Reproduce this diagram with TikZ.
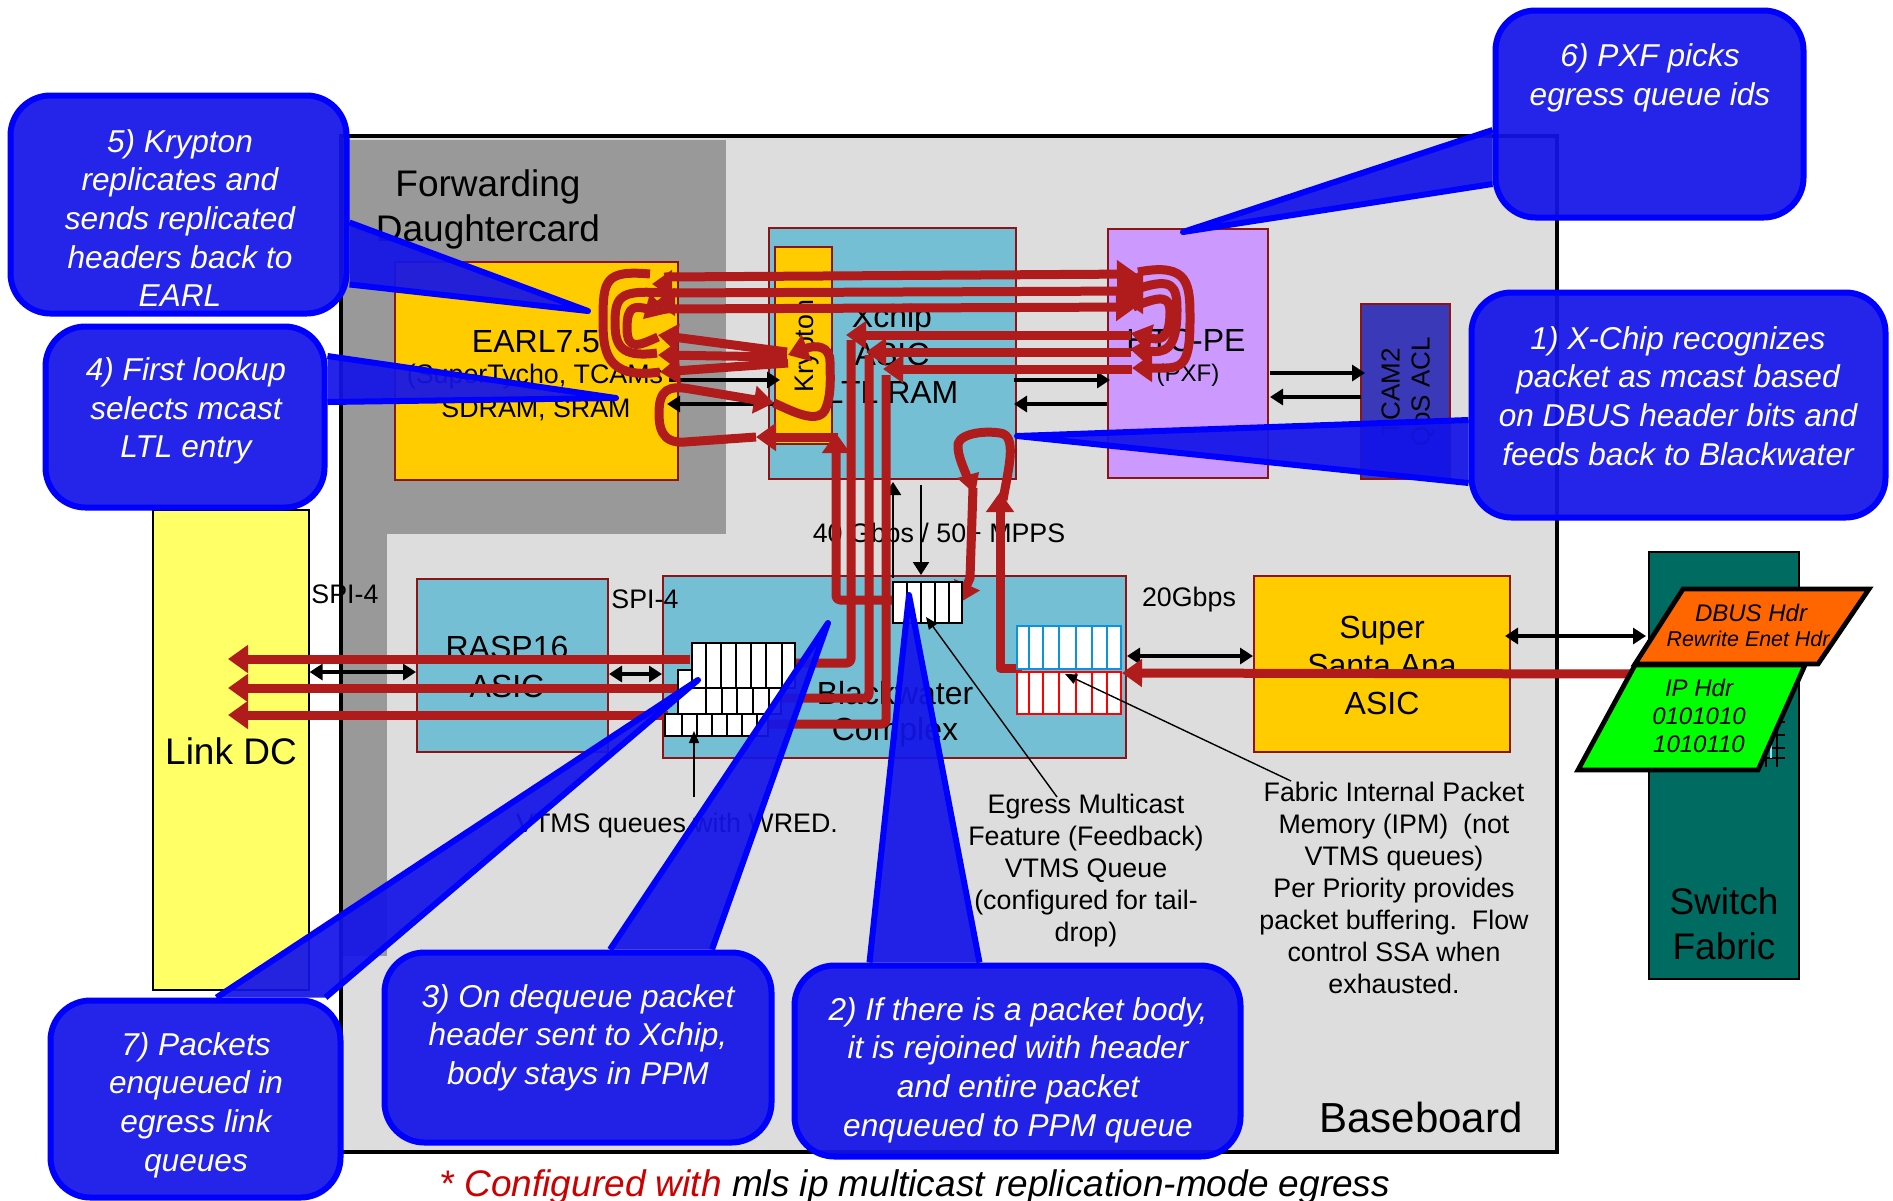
\documentclass[tikz,border=0pt]{standalone}
\usepackage{fontspec}
\setmainfont{Liberation Sans}
\usepackage{xcolor}
\usetikzlibrary{positioning,arrows.meta,calc}
\definecolor{FlowRed}{RGB}{176,27,27}
\definecolor{EdgeRed}{RGB}{140,20,20}
\definecolor{AsicBlue}{RGB}{117,191,213}
\definecolor{EarlGold}{RGB}{255,204,0}
\definecolor{LinkYellow}{RGB}{255,255,102}
\definecolor{PxfPurple}{RGB}{204,153,255}
\definecolor{TcamBlue}{RGB}{58,58,184}
\definecolor{FabricTeal}{RGB}{0,107,97}
\definecolor{BoardGray}{RGB}{221,221,221}
\definecolor{CardGray}{RGB}{153,153,153}
\definecolor{CallBlue}{RGB}{20,20,232}

\begin{document}
\begin{tikzpicture}[x=0.5pt, y=-0.5pt,
    chip/.style={rectangle, draw=EdgeRed, line width=1pt, inner sep=0pt},
    qbox/.style={rectangle, draw=black, line width=1.2pt, fill=white, inner sep=0pt},
    big/.style={font=\fontsize{18.5}{22.5}\selectfont, align=center, inner sep=0pt},
    mid/.style={font=\fontsize{16}{19}\selectfont, align=center, inner sep=0pt},
    small/.style={font=\fontsize{13.4}{16}\selectfont, align=center, inner sep=0pt},
    hdr/.style={font=\fontsize{12}{14}\selectfont\itshape, align=center, inner sep=0pt},
    flowline/.style={draw=FlowRed, line width=4.5pt, line join=round},
    flow/.style={flowline, -{Triangle[length=10pt,width=13.5pt]}},
    bus/.style={line width=1.6pt, -{Triangle[length=6.5pt,width=8pt]}},
    dbus/.style={line width=1.6pt, {Triangle[length=6.5pt,width=8pt]}-{Triangle[length=6.5pt,width=8pt]}},
    note/.style={line width=0.7pt, -{Triangle[length=6pt,width=5pt]}},
    callout/.style={rectangle, rounded corners=20pt, draw=blue, line width=3pt, fill=CallBlue, fill opacity=0.93, inner sep=0pt},
    pointer/.style={draw=blue, line width=3pt, fill=CallBlue, fill opacity=0.93, line join=round},
    calltext/.style={font=\fontsize{15.8}{19.3}\selectfont\itshape, text=white, align=center, inner sep=0pt},
]
\useasboundingbox (0,0) rectangle (1893,1200);

% boards
\node[rectangle, fill=BoardGray, minimum width=608pt, minimum height=508pt, inner sep=0pt] (board) at (949,644) {};
\node[rectangle, fill=CardGray, minimum width=192pt, minimum height=197pt, inner sep=0pt] (card) at (534,337) {};
\node[rectangle, fill=CardGray, minimum width=23.5pt, minimum height=211pt, inner sep=0pt] (strip) at (363.5,745) {};
\draw[line width=2pt] (board.north west) rectangle (board.south east);
\node[rectangle, draw=black, line width=0.6pt, fill=LinkYellow, minimum width=78pt, minimum height=240pt, inner sep=0pt] (link) at (231,750) {};
\node[rectangle, draw=black, line width=1.2pt, fill=FabricTeal, minimum width=75pt, minimum height=213.5pt, inner sep=0pt] (fabric) at (1724,765.5) {};

% chips
\node[chip, fill=EarlGold, minimum width=141.5pt, minimum height=109pt] (earl) at (536.5,371) {};
\node[chip, fill=AsicBlue, minimum width=123.5pt, minimum height=125.5pt] (xchip) at (892.5,353) {};
\node[chip, fill=EarlGold, minimum width=28.5pt, minimum height=98.5pt] (krypton) at (803.5,345.5) {};
\node[chip, fill=PxfPurple, minimum width=80pt, minimum height=124.5pt] (pxf) at (1188,353.5) {};
\node[chip, fill=TcamBlue, minimum width=44.5pt, minimum height=87.5pt] (tcam) at (1405.5,391) {};
\node[chip, fill=AsicBlue, minimum width=95.5pt, minimum height=86.5pt] (rasp) at (512.5,665.5) {};
\node[chip, fill=AsicBlue, minimum width=231.5pt, minimum height=91pt] (black) at (894.5,667) {};
\node[chip, fill=EarlGold, minimum width=128pt, minimum height=88pt] (ssa) at (1382,664) {};

% labels
\node[big] (cardlbl) at (488,209) {Forwarding\\Daughtercard};
\node[font=\fontsize{21}{25}\selectfont, inner sep=0pt] (boardlbl) at (1421,1117) {Baseboard};
\node[big] (linklbl) at (231,751) {Link DC};
\node[big] (fabriclbl) at (1724,923.5) {Switch\\Fabric};
\node[mid] (earllbl) at (536,342) {EARL7.5};
\node[small] (earllbla) at (535,377) {(SuperTycho, TCAMs};
\node[small] (earllblb) at (536,409.5) {SDRAM, SRAM};
\node[mid] (xlbla) at (892,319.5) {Xchip};
\node[mid] (xlblb) at (892,354.5) {ASIC};
\node[mid] (xlblc) at (892,392) {LTL RAM};
\node[small, rotate=90] (krlbl) at (807,346) {Krypton};
\node[mid] (pxflbl) at (1186,340) {HTC-PE};
\node[small, font=\fontsize{12}{14}\selectfont] (pxflblb) at (1188,375) {(PXF)};
\node[small, rotate=90, font=\fontsize{13}{15}\selectfont] (tcamlbl) at (1408,392) {TCAM2\\QoS ACL};
\node[mid] (rasplbla) at (507,647) {RASP16};
\node[mid] (rasplblb) at (507,686) {ASIC};
\node[mid] (blacklbla) at (895,693) {Blackwater};
\node[mid] (blacklblb) at (895,732) {Complex};
\node[mid] (ssalbl) at (1382,665) {Super\\Santa Ana\\ASIC};
\node[small] (spia) at (345,594) {SPI-4};
\node[small] (spib) at (645,599) {SPI-4};
\node[small] (rate) at (939,535.5) {40 Gbps / 50+ MPPS};
\node[small] (fabrate) at (1189,599.5) {20Gbps};
\node[small] (vtms) at (677,825.5) {VTMS queues with WRED.};
\node[small] (egress) at (1086,870.5) {Egress Multicast\\Feature (Feedback)\\VTMS Queue\\(configured for tail-\\drop)};
\node[small] (ipm) at (1394,888) {Fabric Internal Packet\\Memory (IPM)\ \ (not\\VTMS queues)\\Per Priority provides\\packet buffering.\ \ Flow\\control SSA when\\exhausted.};
\node[font=\fontsize{18.5}{22}\selectfont\itshape, inner sep=0pt] (config) at (915,1186.5) {\textcolor{red!80!black}{* Configured with} mls ip multicast replication-mode egress};

% black links
\coordinate (ea) at (669,380);  \coordinate (kra) at (780,380);
\coordinate (eb) at (667,404);  \coordinate (krb) at (775,404);
\coordinate (xa) at (1014,380); \coordinate (pa) at (1110,380);
\coordinate (xb) at (1014,404); \coordinate (pb) at (1107,404);
\coordinate (pc) at (1270,373); \coordinate (ta) at (1365,373);
\coordinate (pd) at (1270,397); \coordinate (tb) at (1361,397);
\coordinate (xc) at (893,482);  \coordinate (qa) at (893,578);
\coordinate (xd) at (921,485);  \coordinate (qb) at (921,575);
\coordinate (sa) at (1505,636); \coordinate (fa) at (1646,636);
\draw[bus] (ea) -- (kra);
\draw[bus] (krb) -- (eb);
\draw[bus] (xa) -- (pa);
\draw[bus] (pb) -- (xb);
\draw[bus] (pc) -- (ta);
\draw[bus] (tb) -- (pd);
\draw[bus, line width=1.1pt] (qa) -- (xc);
\draw[bus, line width=1.1pt] (xd) -- (qb);
\draw[dbus] (sa) -- (fa);
\draw[dbus] (black.east |- 0,656) -- (ssa.west |- 0,656);
\draw[dbus] (link.east |- 0,672) -- (rasp.west |- 0,672);
\draw[dbus] (rasp.east |- 0,674) -- (black.west |- 0,674);

% red flow, EARL side
\draw[flow] (664,277) -- (1137,274);
\draw[flow] (664,293) -- (1138,291);
\draw[flow] (664,309) -- (1136,307);
\draw[flow] (668,284) -- (652,284);
\draw[flow] (668,302) -- (655,302);
\draw[flow] (1140,283) -- (1123,283);
\draw[flow] (1140,300) -- (1123,300);
\draw[flowline] (660,372) .. controls (605,380) and (603,350) .. (603,320) .. controls (603,280) and (605,270) .. (650,274);
\draw[flowline] (657,353) .. controls (620,358) and (615,345) .. (615,322) .. controls (615,295) and (622,290) .. (664,293);
\draw[flowline] (658,337) .. controls (640,345) and (627,352) .. (627,328) .. controls (627,305) and (635,306) .. (648,309);
\fill[FlowRed] (643,319) -- (668,313) -- (650,293) -- cycle;
\draw[flow] (787,352) -- (658,335);
\draw[flow] (787,357) -- (658,355);
\draw[flow] (788,363) -- (660,372);

% red flow, PXF side
\draw[flow] (1138,272) .. controls (1190,262) and (1190,285) .. (1190,320) .. controls (1190,372) and (1180,368) .. (1132,368);
\draw[flow] (1140,288) .. controls (1172,278) and (1177,285) .. (1177,310) .. controls (1177,350) and (1165,353) .. (1130,349);
\draw[flow] (1133,307) .. controls (1160,296) and (1170,295) .. (1170,312) .. controls (1170,342) and (1158,340) .. (1131,333);
\draw[flow] (1131,335) -- (846,335);
\draw[flow] (1131,352) -- (866,352);
\draw[flow] (1132,369) -- (883,369);

% krypton loop and lower EARL loop
\draw[flow] (838,437) -- (756,437);
\draw[flow] (756,437) -- (685,442) .. controls (660,444) and (659,425) .. (659,413) .. controls (659,390) and (668,385) .. (690,389) -- (774,403);
\draw[flow] (774,403) .. controls (790,410) and (817,425) .. (825,410) .. controls (832,395) and (830,375) .. (830,362) .. controls (830,345) and (815,345) .. (788,355);

% red flow, down to the queues
\coordinate (outa) at (228,659);
\coordinate (outb) at (228,688);
\coordinate (outc) at (228,715);
\coordinate (up) at (836,600);
\coordinate (loopa) at (1000,492);
\draw[flowline, rounded corners=2pt] (851,340) -- (851,663) -- (785,663);
\draw[flowline, rounded corners=2pt] (869,355) -- (869,698) -- (770,698);
\draw[flowline, rounded corners=2pt] (886,375) -- (886,724) -- (760,724);
\draw[flow, rounded corners=2pt] (900,600) -- (up) -- (836,433);
\draw[flowline] (1003,500) .. controls (1008,470) and (1018,435) .. (1000,433) .. controls (980,430) and (955,435) .. (958,448) .. controls (959,460) and (965,470) .. (968,480);
\fill[FlowRed] (957,478) -- (979,472) -- (975,494) -- cycle;
\draw[flow] (1022,668) -- (1000,668) -- (loopa);
\draw[flow] (973,488) -- (970,578) -- (959,603);
\draw[flow] (690,659) -- (outa);
\draw[flow] (680,688) -- (outb);
\draw[flow] (668,715) -- (outc);
\coordinate (ssain) at (1122,673);
\draw[flow] (1640,674) -- (ssain);

% queues
\node[qbox, minimum width=51.5pt, minimum height=11pt] (qlc) at (716.5,725) {};
\foreach \x in {682,697,712,727,742,757} \draw[line width=0.8pt] (\x,714) -- (\x,736);
\node[qbox, minimum width=51.5pt, minimum height=22pt] (qlb) at (729.5,692) {};
\foreach \x in {706,722,737,753,769} \draw[line width=0.8pt] (\x,688) -- (\x,714);
\node[qbox, minimum width=51.5pt, minimum height=22.5pt] (qla) at (743.5,665.5) {};
\foreach \x in {706,721,736,751,766,782} \draw[line width=0.8pt] (\x,643) -- (\x,688);
\node[qbox, minimum width=34.5pt, minimum height=20.5pt] (qfb) at (927.5,602.5) {};
\foreach \x in {907,921,935,949} \draw[line width=0.8pt] (\x,582) -- (\x,623);
\node[qbox, draw=cyan!80!blue, minimum width=52pt, minimum height=21.5pt] (qcy) at (1069,647.5) {};
\foreach \x in {1029,1043,1059,1076,1092,1107} \draw[cyan!80!blue, line width=0.8pt] (\x,626) -- (\x,669);
\node[qbox, draw=red, minimum width=52pt, minimum height=21pt] (qrd) at (1069,693) {};
\foreach \x in {1029,1043,1059,1076,1092,1107} \draw[red, line width=0.8pt] (\x,672) -- (\x,714);

% annotation arrows
\coordinate (vtmsa) at (694,797);
\coordinate (egra) at (1057,797);
\coordinate (ipma) at (1291,781);
\draw[note] (vtmsa) -- (694,731);
\draw[note] (egra) -- (926,617);
\draw[note] (ipma) -- (1065,674);

% fabric queue and headers
\foreach \y in {722,735,748,758} \draw[line width=0.6pt] (1761,\y) -- (1785,\y);
\foreach \x in {1766,1777} \draw[line width=0.6pt] (\x,710) -- (\x,767);
\draw[cyan!40, line width=0.8pt] (1771,730) -- (1771,758);
\draw[line width=2.4pt, fill=orange!80!red, line join=miter] (1683,589) -- (1869,589) -- (1818,664) -- (1635,664) -- cycle;
\draw[line width=2.4pt, fill=green, line join=miter] (1635,665) -- (1805,665) -- (1758,770) -- (1578,770) -- cycle;
\node[hdr] (dbus) at (1751,613) {DBUS Hdr};
\node[hdr, font=\fontsize{10.7}{13}\selectfont\itshape] (rewrite) at (1748,639) {Rewrite Enet Hdr};
\node[hdr, font=\fontsize{12}{14}\selectfont\itshape] (iphdr) at (1699,716) {IP Hdr\\0101010\\1010110};

% callouts
\coordinate (tipa) at (1017,436);
\coordinate (tipb) at (909,595);
\coordinate (tipc) at (828,623);
\coordinate (tipd) at (616,398);
\coordinate (tipe) at (588,311);
\coordinate (tipf) at (1183,232);
\coordinate (tipg) at (698,680);
\node[callout, minimum width=207pt, minimum height=112.5pt] (stepa) at (1678.5,405) {};
\node[callout, minimum width=223pt, minimum height=95.5pt] (stepb) at (1017.5,1061) {};
\node[callout, minimum width=193.5pt, minimum height=95pt] (stepc) at (578,1047.5) {};
\node[callout, minimum width=139.5pt, minimum height=90.5pt] (stepd) at (185,417) {};
\node[callout, minimum width=168pt, minimum height=109pt] (stepe) at (178.5,204.5) {};
\node[callout, minimum width=154pt, minimum height=103.5pt] (stepf) at (1649.5,114) {};
\node[callout, minimum width=145pt, minimum height=98.5pt] (stepg) at (195.5,1099) {};
\draw[pointer] ([yshift=-7.5pt]stepa.west) -- (tipa) -- ([yshift=-39pt]stepa.west);
\draw[pointer] ([xshift=-74pt]stepb.north) -- (tipb) -- ([xshift=-19pt]stepb.north);
\draw[pointer] ([xshift=16pt]stepc.north) -- (tipc) -- ([xshift=67pt]stepc.north);
\draw[pointer] ([yshift=30.5pt]stepd.east) -- (tipd) -- ([yshift=7.5pt]stepd.east);
\draw[pointer] ([yshift=-9pt]stepe.east) -- (tipe) -- ([yshift=-40pt]stepe.east);
\draw[pointer] ([yshift=-8pt]stepf.west) -- (tipf) -- ([yshift=-35pt]stepf.west);
\draw[pointer] ([xshift=10.5pt]stepg.north) -- (tipg) -- ([xshift=65pt]stepg.north);
\node[calltext] (texta) at (1678,396) {1) X-Chip recognizes\\packet as mcast based\\on DBUS header bits and\\feeds back to Blackwater};
\node[calltext] (textb) at (1018,1070) {2) If there is a packet body,\\it is rejoined with header\\and entire packet\\enqueued to PPM queue};
\node[calltext] (textc) at (578,1037.5) {3) On dequeue packet\\header sent to Xchip,\\body stays in PPM};
\node[calltext] (textd) at (186,411) {4) First lookup\\selects mcast\\LTL entry};
\node[calltext] (texte) at (180,218) {5) Krypton\\replicates and\\sends replicated\\headers back to\\EARL};
\node[calltext] (textf) at (1650,78) {6) PXF picks\\egress queue ids};
\node[calltext] (textg) at (196,1105) {7) Packets\\enqueued in\\egress link\\queues};
\end{tikzpicture}
\end{document}
